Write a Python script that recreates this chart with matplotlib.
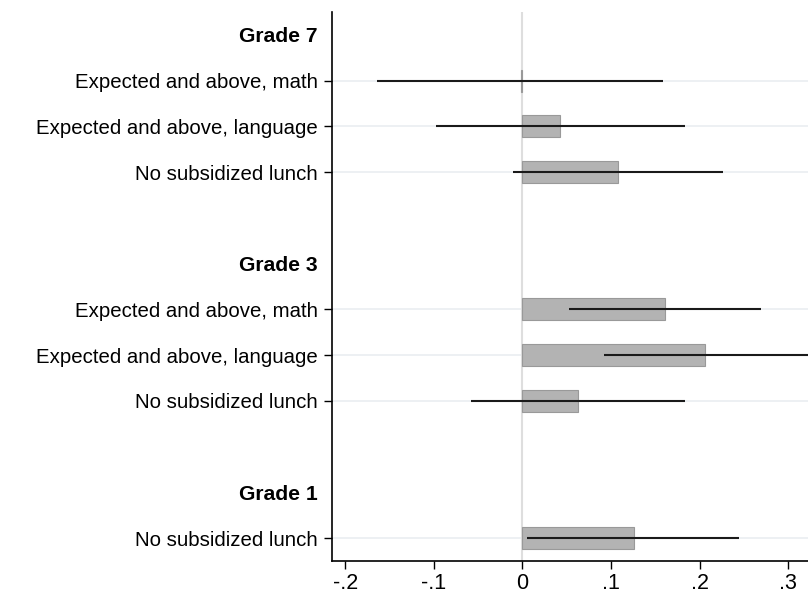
import matplotlib
matplotlib.use('Agg')
import matplotlib.pyplot as plt

plt.rcParams['font.family'] = ['Liberation Sans', 'DejaVu Sans']

# rows from top to bottom; empty strings are spacer rows
labels = ["Grade 7", "Expected and above, math", "Expected and above, language",
          "No subsidized lunch", "",
          "Grade 3", "Expected and above, math", "Expected and above, language",
          "No subsidized lunch", "",
          "Grade 1", "No subsidized lunch"]
headers = ["Grade 7", "Grade 3", "Grade 1"]
coef = [None, -0.002, 0.042, 0.108, None,
        None, 0.161, 0.206, 0.0625, None,
        None, 0.1255]
ci_lo = [None, -0.164, -0.098, -0.0105, None,
         None, 0.052, 0.092, -0.058, None,
         None, 0.0055]
ci_hi = [None, 0.159, 0.184, 0.226, None,
         None, 0.269, 0.322, 0.184, None,
         None, 0.245]
xticks = [-0.2, -0.1, 0, 0.1, 0.2, 0.3]
xticklabels = ["-.2", "-.1", "0", ".1", ".2", ".3"]

n = len(labels)
ypos = [n - 1 - i for i in range(n)]

fig = plt.figure(figsize=(8.08, 5.94), dpi=100)
ax = fig.add_axes([0.4105, 0.0556, 0.5895, 0.9242])

# gridlines only at data rows
for y, c in zip(ypos, coef):
    if c is not None:
        ax.axhline(y, color='#eaeef1', lw=1.2, zorder=0)
ax.axvline(0, color='#dedede', lw=1.5, zorder=1)

for y, c, lo, hi in zip(ypos, coef, ci_lo, ci_hi):
    if c is None:
        continue
    ax.barh(y, c, height=0.48, color='#b3b3b3', edgecolor='#999999',
            linewidth=0.8, zorder=2)
    ax.plot([lo, hi], [y, y], color='#1a1a1a', lw=1.5, zorder=3,
            solid_capstyle='butt')

ax.set_xlim(-0.2155, 0.3225)
ax.set_ylim(-0.5, n - 0.5)
ax.set_xticks(xticks)
ax.set_xticklabels(xticklabels, fontsize=15.5)
ax.set_yticks(ypos)
ax.set_yticklabels(labels, fontsize=14.7)

for tick, lab in zip(ax.yaxis.get_major_ticks(), labels):
    if lab in headers or lab == "":
        tick.tick1line.set_visible(False)
    if lab in headers:
        tick.label1.set_fontweight('bold')
        tick.label1.set_fontsize(15.2)

ax.tick_params(axis='y', length=6, width=1, pad=4)
ax.tick_params(axis='x', length=6, width=1, pad=3)
ax.spines['top'].set_visible(False)
ax.spines['right'].set_visible(False)
ax.spines['left'].set_linewidth(1.2)
ax.spines['bottom'].set_linewidth(1.2)

fig.savefig('out.png', dpi=100)
